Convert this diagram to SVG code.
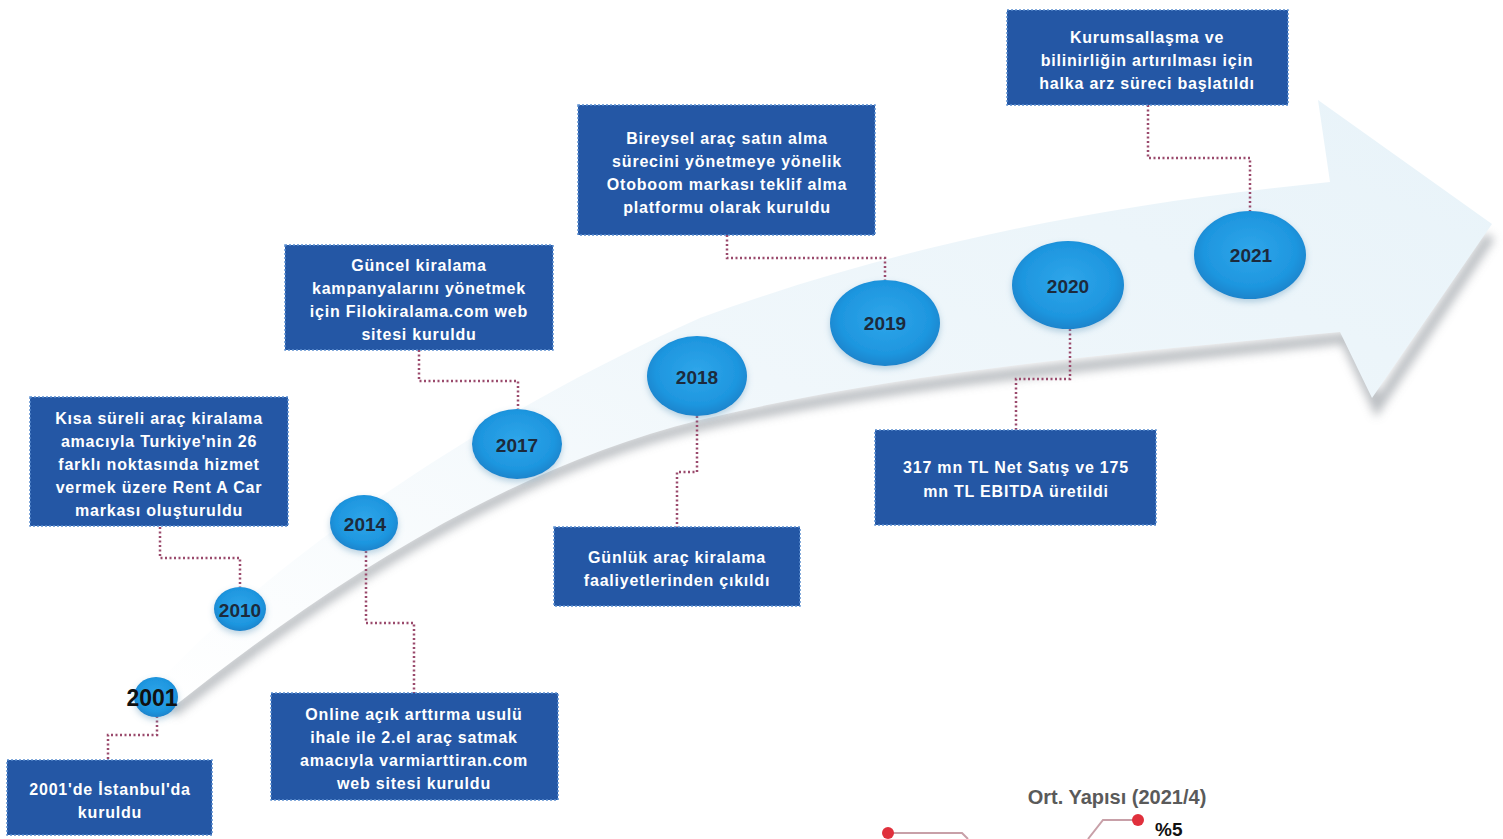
<svg xmlns="http://www.w3.org/2000/svg" width="1503" height="839" viewBox="0 0 1503 839">
<defs>
<style>
.box{fill:#2457a5;stroke:#5b8fd0;stroke-width:1.5;stroke-dasharray:2 2}
.bt{font-family:"Liberation Sans",Arial,sans-serif;font-size:16px;font-weight:bold;fill:#ffffff;text-anchor:middle;dominant-baseline:central;letter-spacing:0.8px}
.yr{font-family:"Liberation Sans",Arial,sans-serif;font-size:19px;font-weight:bold;fill:#1c2a3c;text-anchor:middle;dominant-baseline:central}
.con{fill:none;stroke:#9a4a6c;stroke-width:2.5;stroke-dasharray:2 2.5}
.ell{fill:url(#eg);filter:url(#es)}
</style>
<radialGradient id="eg" cx="0.5" cy="0.45" r="0.55">
<stop offset="0" stop-color="#2fa6ea"/>
<stop offset="0.75" stop-color="#1e96df"/>
<stop offset="1" stop-color="#1a84cc"/>
</radialGradient>
<linearGradient id="ag" x1="0" y1="1" x2="1" y2="0">
<stop offset="0" stop-color="#ffffff"/>
<stop offset="0.5" stop-color="#f0f7fb"/>
<stop offset="1" stop-color="#e8f3f9"/>
</linearGradient>
<filter id="sh" x="-0.1" y="-0.2" width="1.2" height="1.4">
<feGaussianBlur stdDeviation="5"/>
</filter>
<filter id="es" x="-0.3" y="-0.3" width="1.6" height="1.6">
<feDropShadow dx="0" dy="3" stdDeviation="3" flood-color="#6a9fc0" flood-opacity="0.45"/>
</filter>
</defs>

<g id="arrow">
<path d="M172,712 C300,610 500,470 700,425 C900,380 1100,365 1345,338 L1377,406 L1490,236" fill="none" stroke="#a9adb2" stroke-width="11" filter="url(#sh)" opacity="0.8"/>
<path d="M150,692 C250,580 450,430 700,318 C900,245 1100,205 1330,182 L1318,100 L1492,224 L1372,398 L1340,332 C1100,355 900,372 700,420 C500,470 320,590 172,708 Z" fill="url(#ag)"/>
</g>

<g id="connectors">
<polyline class="con" points="160,527 160,558 240,558 240,587"/>
<polyline class="con" points="419,350 419,381 518,381 518,409"/>
<polyline class="con" points="727,235 727,258 885,258 885,280"/>
<polyline class="con" points="1148,105 1148,158 1250,158 1250,212"/>
<polyline class="con" points="157,716 157,735 108,735 108,760"/>
<polyline class="con" points="366,551 366,623 414,623 414,693"/>
<polyline class="con" points="697,416 697,472 677,472 677,527"/>
<polyline class="con" points="1070,329 1070,379 1016,379 1016,430"/>
</g>

<g id="y2001"><ellipse class="ell" cx="156" cy="697" rx="22" ry="20"/><text x="152" y="698" class="yr" style="font-size:23px;fill:#111">2001</text></g>
<g id="y2010"><ellipse class="ell" cx="240" cy="609" rx="26" ry="22"/><text x="240" y="610" class="yr">2010</text></g>
<g id="y2014"><ellipse class="ell" cx="364" cy="523" rx="34" ry="28"/><text x="365" y="524" class="yr">2014</text></g>
<g id="y2017"><ellipse class="ell" cx="517" cy="444" rx="45" ry="35"/><text x="517" y="445" class="yr">2017</text></g>
<g id="y2018"><ellipse class="ell" cx="697" cy="376" rx="50" ry="40"/><text x="697" y="377" class="yr">2018</text></g>
<g id="y2019"><ellipse class="ell" cx="885" cy="323" rx="55" ry="43"/><text x="885" y="323" class="yr">2019</text></g>
<g id="y2020"><ellipse class="ell" cx="1068" cy="285" rx="56" ry="44"/><text x="1068" y="286" class="yr">2020</text></g>
<g id="y2021"><ellipse class="ell" cx="1250" cy="255" rx="56" ry="44"/><text x="1251" y="255" class="yr">2021</text></g>

<g id="b2010"><rect class="box" x="30" y="397" width="258" height="129"/>
<text class="bt" x="159" y="418">Kısa süreli araç kiralama</text>
<text class="bt" x="159" y="441">amacıyla Turkiye'nin 26</text>
<text class="bt" x="159" y="464">farklı noktasında hizmet</text>
<text class="bt" x="159" y="487">vermek üzere Rent A Car</text>
<text class="bt" x="159" y="510">markası oluşturuldu</text></g>

<g id="b2017"><rect class="box" x="285" y="245" width="268" height="105"/>
<text class="bt" x="419" y="265">Güncel kiralama</text>
<text class="bt" x="419" y="288">kampanyalarını yönetmek</text>
<text class="bt" x="419" y="311">için Filokiralama.com  web</text>
<text class="bt" x="419" y="334">sitesi kuruldu</text></g>

<g id="b2019"><rect class="box" x="578" y="105" width="297" height="130"/>
<text class="bt" x="727" y="138">Bireysel araç satın alma</text>
<text class="bt" x="727" y="161">sürecini yönetmeye yönelik</text>
<text class="bt" x="727" y="184">Otoboom  markası teklif alma</text>
<text class="bt" x="727" y="207">platformu olarak kuruldu</text></g>

<g id="b2021"><rect class="box" x="1007" y="10" width="281" height="95"/>
<text class="bt" x="1147" y="37">Kurumsallaşma ve</text>
<text class="bt" x="1147" y="60">bilinirliğin artırılması için</text>
<text class="bt" x="1147" y="83">halka arz süreci başlatıldı</text></g>

<g id="b2001"><rect class="box" x="7" y="760" width="205" height="75"/>
<text class="bt" x="110" y="789">2001'de İstanbul'da</text>
<text class="bt" x="110" y="812">kuruldu</text></g>

<g id="b2014"><rect class="box" x="271" y="693" width="287" height="107"/>
<text class="bt" x="414" y="714">Online açık arttırma usulü</text>
<text class="bt" x="414" y="737">ihale ile 2.el araç satmak</text>
<text class="bt" x="414" y="760">amacıyla varmiarttiran.com</text>
<text class="bt" x="414" y="783">web sitesi kuruldu</text></g>

<g id="b2018"><rect class="box" x="554" y="527" width="246" height="79"/>
<text class="bt" x="677" y="557">Günlük araç kiralama</text>
<text class="bt" x="677" y="580">faaliyetlerinden çıkıldı</text></g>

<g id="b2020"><rect class="box" x="875" y="430" width="281" height="95"/>
<text class="bt" x="1016" y="467">317 mn TL Net Satış ve 175</text>
<text class="bt" x="1016" y="491">mn TL EBITDA üretildi</text></g>

<g id="ort">
<text x="1117" y="797" font-family="'Liberation Sans',Arial,sans-serif" font-size="20" font-weight="bold" fill="#5a5a5a" text-anchor="middle" dominant-baseline="central">Ort. Yapısı (2021/4)</text>
<polyline points="888,833 962,833 968,839" fill="none" stroke="#c8a0a8" stroke-width="2"/>
<circle cx="888" cy="833" r="6" fill="#e0303c"/>
<polyline points="1138,820 1103,820 1088,839" fill="none" stroke="#c8a0a8" stroke-width="2"/>
<circle cx="1138" cy="820" r="6" fill="#e0303c"/>
<text x="1155" y="829" font-family="'Liberation Sans',Arial,sans-serif" font-size="19" font-weight="bold" fill="#111" dominant-baseline="central">%5</text>
</g>
</svg>
